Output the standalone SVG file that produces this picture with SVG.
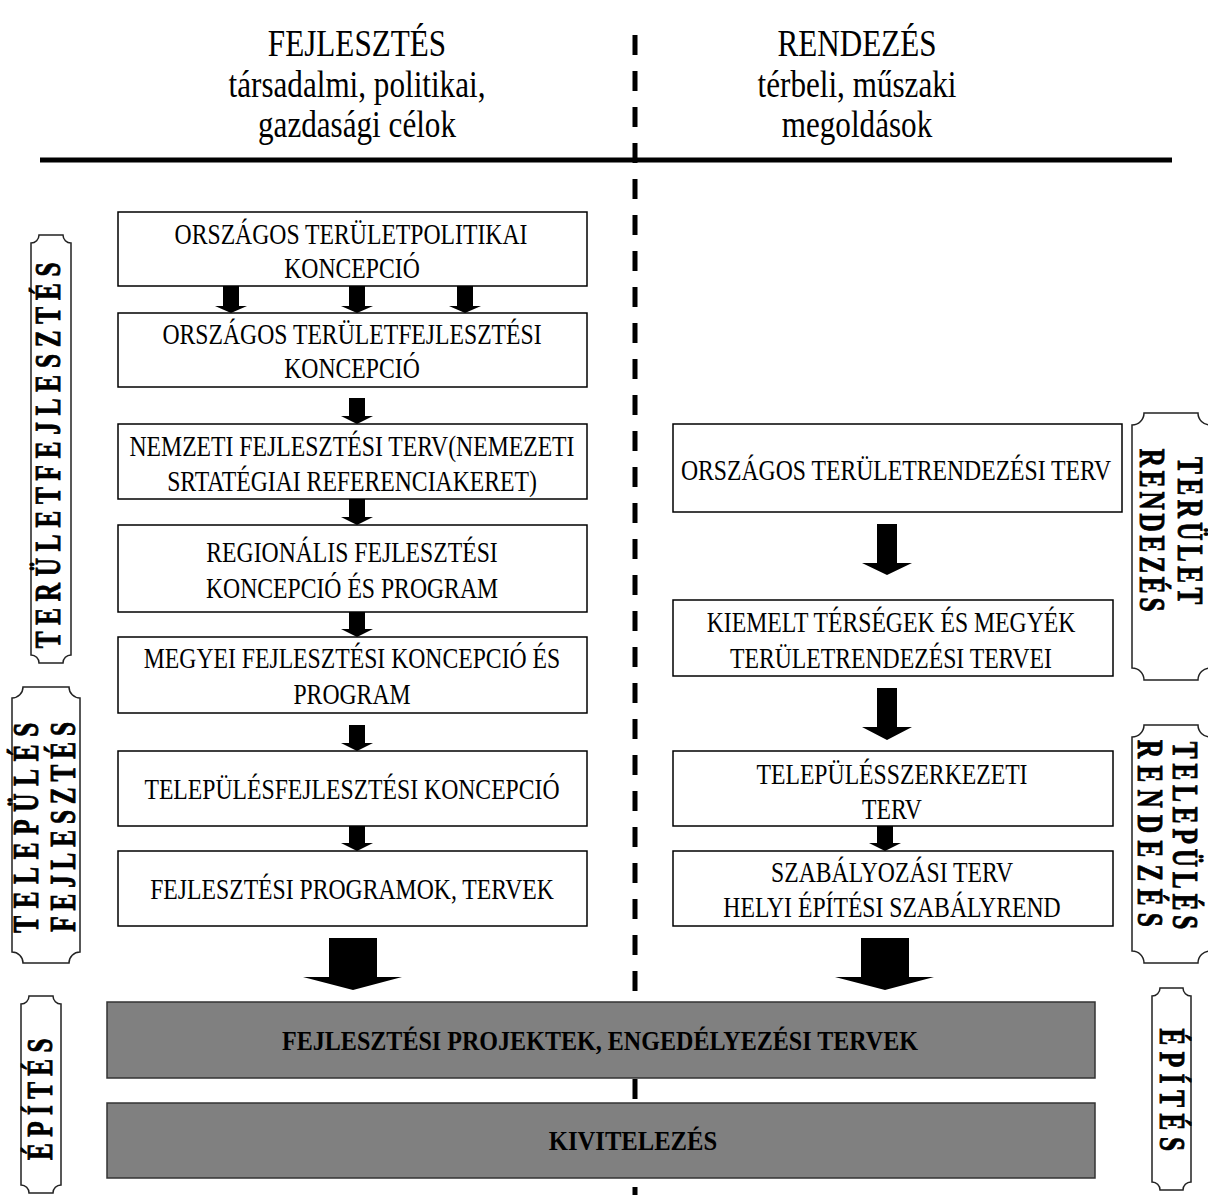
<svg xmlns="http://www.w3.org/2000/svg" width="1208" height="1195" viewBox="0 0 1208 1195">
  <style>
    .box { fill: #ffffff; stroke: #000000; stroke-width: 1.5; }
    .gbox { fill: #808080; stroke: #333333; stroke-width: 1.5; }
    .scroll { fill: #ffffff; stroke: #222222; stroke-width: 1.5; }
    .arr { fill: #000000; }
    .t { font-family: "Liberation Serif", "Times New Roman", serif; font-size: 30px; fill: #000000; text-anchor: middle; }
    .h { font-family: "Liberation Serif", "Times New Roman", serif; font-size: 38px; fill: #000000; text-anchor: middle; }
    .g { font-family: "Liberation Serif", "Times New Roman", serif; font-size: 28px; font-weight: bold; fill: #000000; text-anchor: middle; }
    .s { font-family: "Liberation Serif", "Times New Roman", serif; font-size: 36px; font-weight: bold; fill: #000000; stroke: #000000; stroke-width: 0.9; text-anchor: middle; }
  </style>

  <!-- column headers -->
  <g id="header-left">
    <text class="h" transform="translate(357,56) scale(0.82,1)">FEJLESZTÉS</text>
    <text class="h" transform="translate(357,97) scale(0.82,1)">társadalmi, politikai,</text>
    <text class="h" transform="translate(357,137) scale(0.82,1)">gazdasági célok</text>
  </g>
  <g id="header-right">
    <text class="h" transform="translate(857,56) scale(0.82,1)">RENDEZÉS</text>
    <text class="h" transform="translate(857,97) scale(0.82,1)">térbeli, műszaki</text>
    <text class="h" transform="translate(857,137) scale(0.82,1)">megoldások</text>
  </g>

  <!-- column divider (drawn under the stage bars) -->
  <line x1="635" y1="35" x2="635" y2="1195" stroke="#000" stroke-width="5" stroke-dasharray="20 16"/>

  <!-- header rule -->
  <line x1="40" y1="160" x2="1172" y2="160" stroke="#000" stroke-width="5"/>

  <!-- side plaques, left -->
  <g id="side-teruletfejlesztes">
    <path class="scroll" d="M39,235 H63 A8,8 0 0 0 71,243 V655 A8,8 0 0 0 63,663 H39 A8,8 0 0 0 31,655 V243 A8,8 0 0 0 39,235 Z"/>
    <text class="s" letter-spacing="9.7" transform="translate(60,452) rotate(-90) scale(0.7,1)">TERÜLETFEJLESZTÉS</text>
  </g>
  <g id="side-telepules-fejlesztes">
    <path class="scroll" d="M23,687 H69 A11,11 0 0 0 80,698 V952 A11,11 0 0 0 69,963 H23 A11,11 0 0 0 12,952 V698 A11,11 0 0 0 23,687 Z"/>
    <text class="s" letter-spacing="11" transform="translate(38,824) rotate(-90) scale(0.7,1)">TELEPÜLÉS</text>
    <text class="s" letter-spacing="8.4" transform="translate(75,824) rotate(-90) scale(0.7,1)">FEJLESZTÉS</text>
  </g>
  <g id="side-epites-left">
    <path class="scroll" d="M29,996 H53 A8,8 0 0 0 61,1004 V1185 A8,8 0 0 0 53,1193 H29 A8,8 0 0 0 21,1185 V1004 A8,8 0 0 0 29,996 Z"/>
    <text class="s" letter-spacing="9.1" transform="translate(52,1096) rotate(-90) scale(0.7,1)">ÉPÍTÉS</text>
  </g>

  <!-- side plaques, right -->
  <g id="side-terulet-rendezes">
    <path class="scroll" d="M1144,413 H1198 A12,12 0 0 0 1210,425 V668 A12,12 0 0 0 1198,680 H1144 A12,12 0 0 0 1132,668 V425 A12,12 0 0 0 1144,413 Z"/>
    <text class="s" letter-spacing="6.4" transform="translate(1178,533) rotate(90) scale(0.7,1)">TERÜLET</text>
    <text class="s" letter-spacing="5.5" transform="translate(1140,532) rotate(90) scale(0.7,1)">RENDEZÉS</text>
  </g>
  <g id="side-telepules-rendezes">
    <path class="scroll" d="M1144,725 H1198 A12,12 0 0 0 1210,737 V951 A12,12 0 0 0 1198,963 H1144 A12,12 0 0 0 1132,951 V737 A12,12 0 0 0 1144,725 Z"/>
    <text class="s" letter-spacing="7" transform="translate(1173,838) rotate(90) scale(0.7,1)">TELEPÜLÉS</text>
    <text class="s" letter-spacing="10.4" transform="translate(1138,837) rotate(90) scale(0.7,1)">RENDEZÉS</text>
  </g>
  <g id="side-epites-right">
    <path class="scroll" d="M1160,988 H1183 A8,8 0 0 0 1191,996 V1182 A8,8 0 0 0 1183,1190 H1160 A8,8 0 0 0 1152,1182 V996 A8,8 0 0 0 1160,988 Z"/>
    <text class="s" letter-spacing="9.4" transform="translate(1160,1093) rotate(90) scale(0.7,1)">ÉPÍTÉS</text>
  </g>

  <!-- connectors: block arrows -->
  <g id="connectors" class="arr">
    <polygon points="223,286 239,286 239,306 247,306 231,313 215,306 223,306"/>
    <polygon points="349,286 365,286 365,306 373,306 357,313 341,306 349,306"/>
    <polygon points="457,286 473,286 473,306 481,306 465,313 449,306 457,306"/>
    <polygon points="349,398 365,398 365,416 373,416 357,424 341,416 349,416"/>
    <polygon points="349,499 365,499 365,517 373,517 357,525 341,517 349,517"/>
    <polygon points="349,612 365,612 365,629 373,629 357,637 341,629 349,629"/>
    <polygon points="349,725 365,725 365,743 373,743 357,751 341,743 349,743"/>
    <polygon points="349,826 365,826 365,843 373,843 357,851 341,843 349,843"/>
    <polygon points="329,938 377,938 377,977 402,977 353,990 303,977 329,977"/>
    <polygon points="877,524 897,524 897,563 912,563 887,575 862,563 877,563"/>
    <polygon points="877,688 897,688 897,727 912,727 887,740 862,727 877,727"/>
    <polygon points="877,826 893,826 893,843 901,843 885,851 869,843 877,843"/>
    <polygon points="861,938 909,938 909,977 934,977 885,990 835,977 861,977"/>
  </g>

  <!-- development column -->
  <g id="n-orszagos-teruletpolitikai">
    <rect class="box" x="118" y="212" width="469" height="74"/>
    <text class="t" transform="translate(351,244) scale(0.79,1)">ORSZÁGOS TERÜLETPOLITIKAI</text>
    <text class="t" transform="translate(352,278) scale(0.79,1)">KONCEPCIÓ</text>
  </g>
  <g id="n-orszagos-teruletfejlesztesi">
    <rect class="box" x="118" y="313" width="469" height="74"/>
    <text class="t" transform="translate(352,344) scale(0.79,1)">ORSZÁGOS TERÜLETFEJLESZTÉSI</text>
    <text class="t" transform="translate(352,378) scale(0.79,1)">KONCEPCIÓ</text>
  </g>
  <g id="n-nemzeti-fejlesztesi-terv">
    <rect class="box" x="118" y="424" width="469" height="75"/>
    <text class="t" transform="translate(352,456) scale(0.79,1)">NEMZETI FEJLESZTÉSI TERV(NEMEZETI</text>
    <text class="t" transform="translate(352,491) scale(0.79,1)">SRTATÉGIAI REFERENCIAKERET)</text>
  </g>
  <g id="n-regionalis">
    <rect class="box" x="118" y="525" width="469" height="87"/>
    <text class="t" transform="translate(352,562) scale(0.79,1)">REGIONÁLIS FEJLESZTÉSI</text>
    <text class="t" transform="translate(352,598) scale(0.79,1)">KONCEPCIÓ ÉS PROGRAM</text>
  </g>
  <g id="n-megyei">
    <rect class="box" x="118" y="637" width="469" height="76"/>
    <text class="t" transform="translate(352,668) scale(0.79,1)">MEGYEI FEJLESZTÉSI KONCEPCIÓ ÉS</text>
    <text class="t" transform="translate(352,704) scale(0.79,1)">PROGRAM</text>
  </g>
  <g id="n-telepulesfejlesztesi">
    <rect class="box" x="118" y="751" width="469" height="75"/>
    <text class="t" transform="translate(352,799) scale(0.79,1)">TELEPÜLÉSFEJLESZTÉSI KONCEPCIÓ</text>
  </g>
  <g id="n-fejlesztesi-programok">
    <rect class="box" x="118" y="851" width="469" height="75"/>
    <text class="t" transform="translate(352,899) scale(0.79,1)">FEJLESZTÉSI PROGRAMOK, TERVEK</text>
  </g>

  <!-- planning column -->
  <g id="n-orszagos-teruletrendezesi">
    <rect class="box" x="673" y="424" width="449" height="88"/>
    <text class="t" transform="translate(896,480) scale(0.79,1)">ORSZÁGOS TERÜLETRENDEZÉSI TERV</text>
  </g>
  <g id="n-kiemelt-tersegek">
    <rect class="box" x="673" y="600" width="440" height="76"/>
    <text class="t" transform="translate(891,632) scale(0.79,1)">KIEMELT TÉRSÉGEK ÉS MEGYÉK</text>
    <text class="t" transform="translate(891,668) scale(0.79,1)">TERÜLETRENDEZÉSI TERVEI</text>
  </g>
  <g id="n-telepulesszerkezeti">
    <rect class="box" x="673" y="751" width="440" height="75"/>
    <text class="t" transform="translate(892,784) scale(0.79,1)">TELEPÜLÉSSZERKEZETI</text>
    <text class="t" transform="translate(892,819) scale(0.79,1)">TERV</text>
  </g>
  <g id="n-szabalyozasi">
    <rect class="box" x="673" y="851" width="440" height="75"/>
    <text class="t" transform="translate(892,882) scale(0.79,1)">SZABÁLYOZÁSI TERV</text>
    <text class="t" transform="translate(892,917) scale(0.79,1)">HELYI ÉPÍTÉSI SZABÁLYREND</text>
  </g>

  <!-- construction stages -->
  <g id="n-projektek">
    <rect class="gbox" x="107" y="1002" width="988" height="76"/>
    <text class="g" transform="translate(600,1050) scale(0.86,1)">FEJLESZTÉSI PROJEKTEK, ENGEDÉLYEZÉSI TERVEK</text>
  </g>
  <g id="n-kivitelezes">
    <rect class="gbox" x="107" y="1103" width="988" height="75"/>
    <text class="g" transform="translate(633,1150) scale(0.88,1)">KIVITELEZÉS</text>
  </g>
</svg>
